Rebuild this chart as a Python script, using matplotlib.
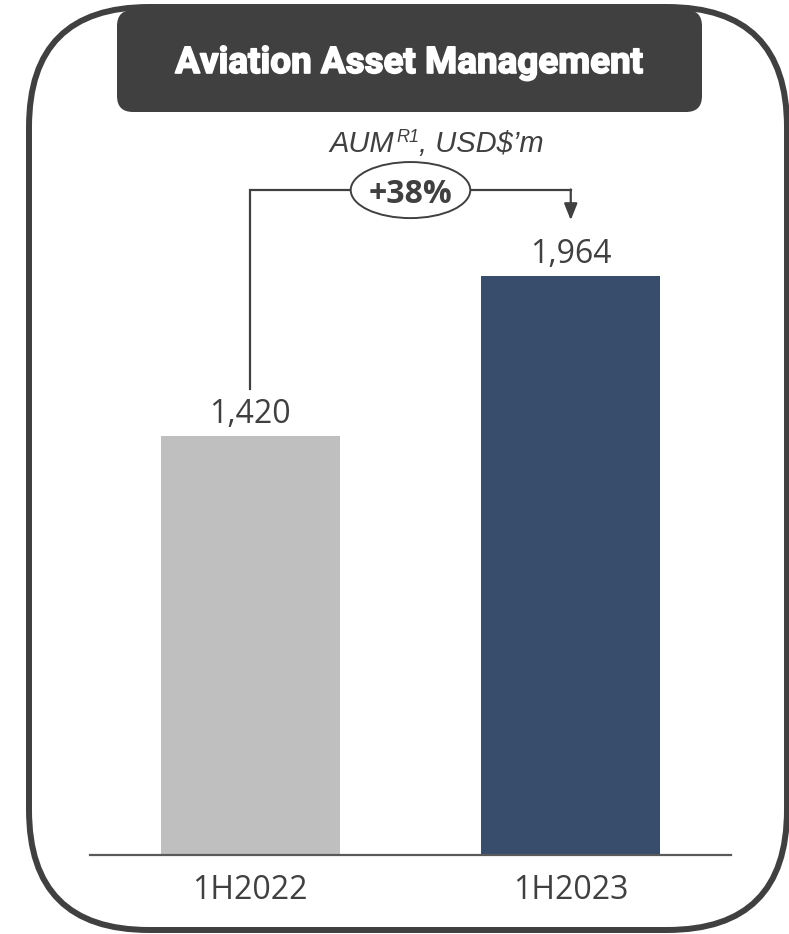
import matplotlib
matplotlib.use("Agg")
import matplotlib.pyplot as plt
import matplotlib.patheffects as pe
from matplotlib.patches import FancyBboxPatch, Ellipse

# Data
categories = ["1H2022", "1H2023"]
aum_values = [1420, 1964]
bar_colors = ["#BFBFBF", "#384D6C"]
growth_label = "+38%"
title_text = "Aviation Asset Management"

W, H, DPI = 789, 934, 100
DARK = "#404040"
NUM_FONT = "Open Sans"

fig = plt.figure(figsize=(W / DPI, H / DPI), dpi=DPI)

# Overlay axes in pixel units (y pointing down) for the frame and header
deco = fig.add_axes([0, 0, 1, 1], zorder=0)
deco.set_xlim(0, W)
deco.set_ylim(H, 0)
deco.axis("off")

outer = FancyBboxPatch((29, 7), 758, 923,
                       boxstyle="round,pad=0,rounding_size=120",
                       facecolor="white", edgecolor=DARK, linewidth=4.3)
deco.add_patch(outer)

header = FancyBboxPatch((117, 10), 585, 102,
                        boxstyle="round,pad=0,rounding_size=16",
                        facecolor=DARK, edgecolor="none")
deco.add_patch(header)
deco.text(409, 73, title_text, ha="center", va="baseline",
          color="white", fontsize=26.5, fontweight="bold", family="Roboto",
          path_effects=[pe.withStroke(linewidth=1.2, foreground="white")])

# Subtitle: AUM with superscript R1, then unit
t1 = deco.text(329, 152, "AUM", ha="left", va="baseline", color=DARK,
               fontsize=21, style="italic", family="Liberation Sans")
t2 = deco.annotate("R1", xy=(1, 142), xycoords=(t1, "data"), xytext=(2, 0),
                   textcoords="offset points", ha="left", va="baseline",
                   color=DARK, fontsize=13, style="italic",
                   family="Liberation Sans")
t3 = deco.annotate(", USD$\u2019m", xy=(1, 152), xycoords=(t2, "data"),
                   ha="left", va="baseline", color=DARK, fontsize=21,
                   style="italic", family="Liberation Sans")

# Bar chart axes
ax = fig.add_axes([90 / W, (H - 855) / H, 641 / W, 767 / H], zorder=1)
ax.patch.set_visible(False)
x = list(range(len(categories)))
ax.bar(x, aum_values, width=0.56, color=bar_colors, zorder=2)
ax.set_xlim(-0.5, 1.5)
ax.set_ylim(0, 2600)

for xi, v in zip(x, aum_values):
    ax.annotate(f"{v:,}", xy=(xi, v), xytext=(0, 9.4), textcoords="offset points",
                ha="center", va="baseline", fontsize=23, color=DARK,
                family=NUM_FONT)

for side in ("left", "right", "top"):
    ax.spines[side].set_visible(False)
ax.spines["bottom"].set_color("#595959")
ax.spines["bottom"].set_linewidth(1.6)
ax.set_yticks([])
ax.set_xticks(x)
ax.set_xticklabels(categories, fontsize=23, color=DARK, family=NUM_FONT)
ax.tick_params(axis="x", length=0, pad=13.5)

# Growth connector from the first bar label to the second bar
y_top = 2254
y_start = aum_values[0] + 160
y_end = aum_values[1] + 188
ax.plot([x[0], x[0], x[1]], [y_start, y_top, y_top], color=DARK,
        linewidth=1.6, clip_on=False, zorder=3, solid_joinstyle="miter")
ax.annotate("", xy=(x[1], y_end), xytext=(x[1], y_top + 2),
            arrowprops=dict(arrowstyle="-|>,head_length=1.0,head_width=0.4",
                            color=DARK, linewidth=1.6, shrinkA=0, shrinkB=0),
            annotation_clip=False, zorder=3)
ell = Ellipse((0.5, y_top), width=0.373, height=190, facecolor="white",
              edgecolor=DARK, linewidth=1.4, clip_on=False, zorder=4)
ax.add_patch(ell)
ax.text(0.5, y_top, growth_label, ha="center", va="center_baseline",
        fontsize=23, fontweight="bold", color=DARK, family=NUM_FONT, zorder=5)

fig.savefig("out.png", dpi=DPI)
